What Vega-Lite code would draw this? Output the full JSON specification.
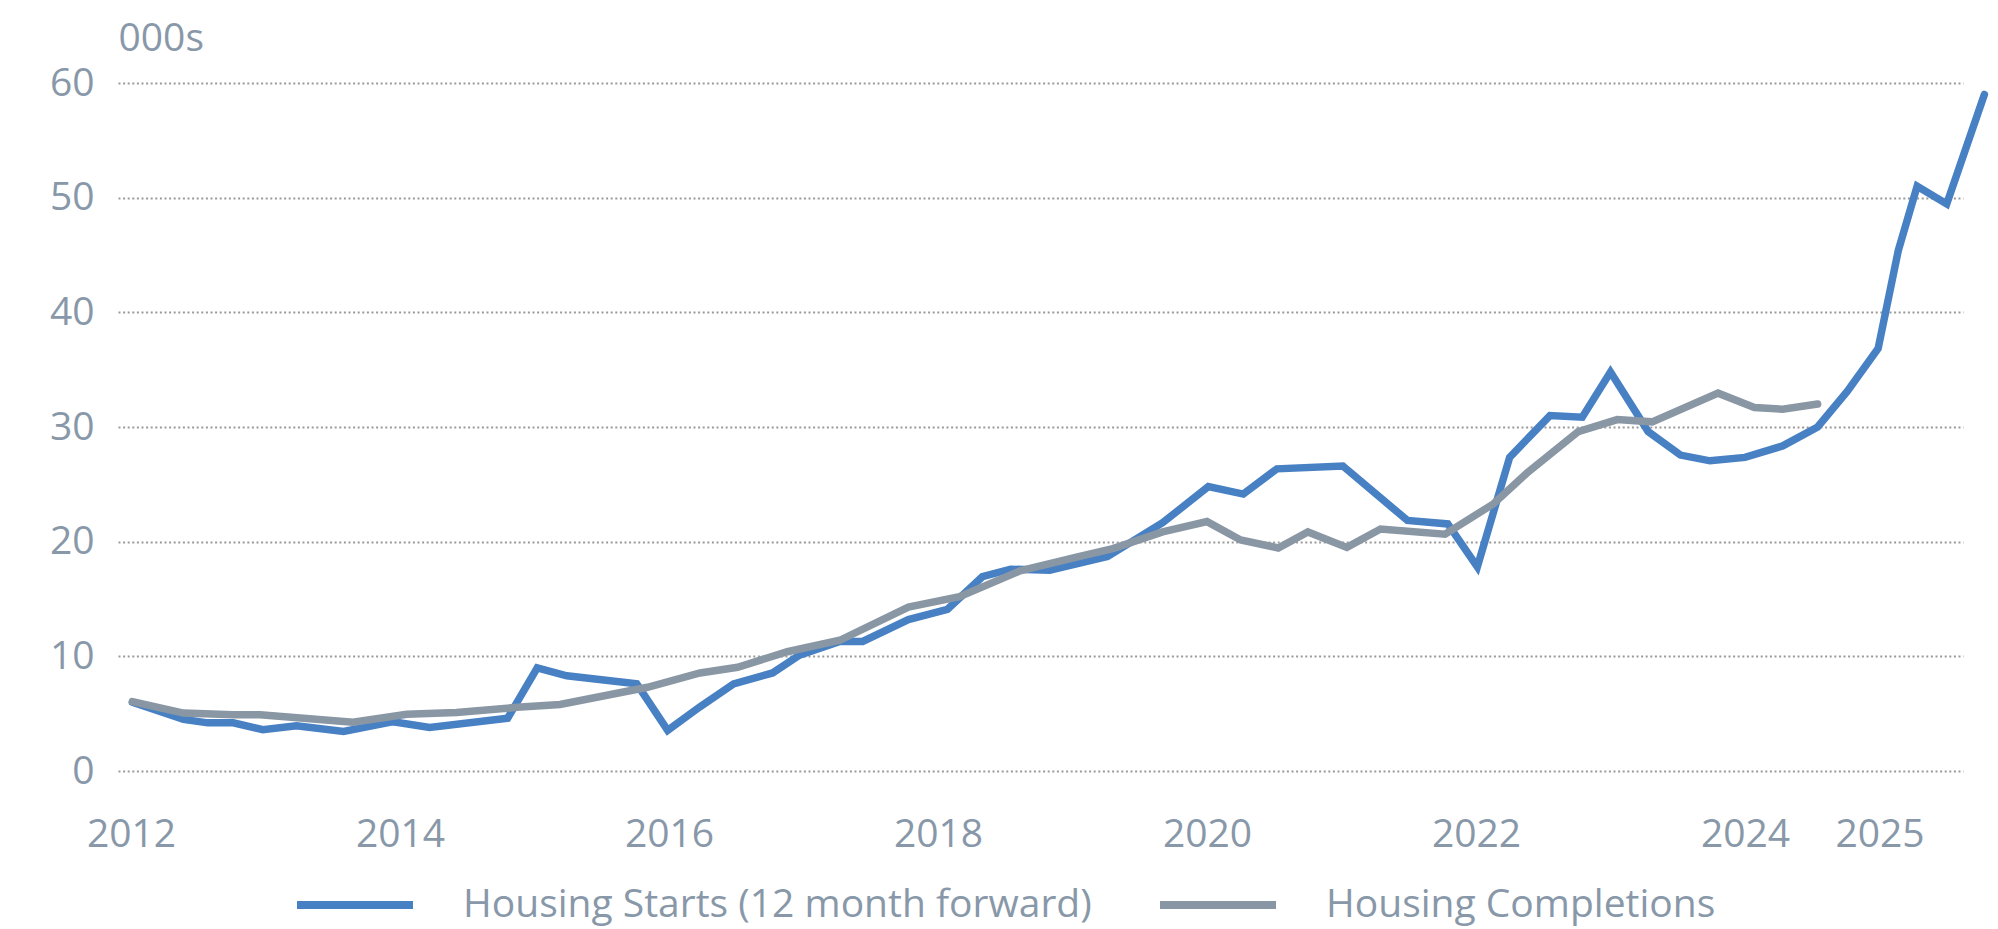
{
  "$schema": "https://vega.github.io/schema/vega-lite/v6.json",
  "width": 1845,
  "height": 688,
  "autosize": {"type": "none"},
  "padding": {"left": 118, "top": 83, "right": 35, "bottom": 158},
  "background": "#ffffff",
  "config": {
    "view": {"stroke": null},
    "font": "Open Sans"
  },
  "data": {
    "values": [
      {"series": "Housing Starts (12 month forward)", "year": 2012.01, "value": 6.0},
      {"series": "Housing Starts (12 month forward)", "year": 2012.39, "value": 4.5},
      {"series": "Housing Starts (12 month forward)", "year": 2012.57, "value": 4.2},
      {"series": "Housing Starts (12 month forward)", "year": 2012.76, "value": 4.2},
      {"series": "Housing Starts (12 month forward)", "year": 2012.98, "value": 3.6},
      {"series": "Housing Starts (12 month forward)", "year": 2013.23, "value": 3.95},
      {"series": "Housing Starts (12 month forward)", "year": 2013.58, "value": 3.45},
      {"series": "Housing Starts (12 month forward)", "year": 2013.95, "value": 4.3},
      {"series": "Housing Starts (12 month forward)", "year": 2014.22, "value": 3.8},
      {"series": "Housing Starts (12 month forward)", "year": 2014.8, "value": 4.6},
      {"series": "Housing Starts (12 month forward)", "year": 2015.02, "value": 9.0},
      {"series": "Housing Starts (12 month forward)", "year": 2015.24, "value": 8.3},
      {"series": "Housing Starts (12 month forward)", "year": 2015.76, "value": 7.6},
      {"series": "Housing Starts (12 month forward)", "year": 2015.99, "value": 3.55},
      {"series": "Housing Starts (12 month forward)", "year": 2016.23, "value": 5.6},
      {"series": "Housing Starts (12 month forward)", "year": 2016.48, "value": 7.6},
      {"series": "Housing Starts (12 month forward)", "year": 2016.77, "value": 8.55},
      {"series": "Housing Starts (12 month forward)", "year": 2016.97, "value": 10.1},
      {"series": "Housing Starts (12 month forward)", "year": 2017.27, "value": 11.3},
      {"series": "Housing Starts (12 month forward)", "year": 2017.44, "value": 11.3},
      {"series": "Housing Starts (12 month forward)", "year": 2017.78, "value": 13.2},
      {"series": "Housing Starts (12 month forward)", "year": 2018.07, "value": 14.1},
      {"series": "Housing Starts (12 month forward)", "year": 2018.33, "value": 16.95},
      {"series": "Housing Starts (12 month forward)", "year": 2018.54, "value": 17.6},
      {"series": "Housing Starts (12 month forward)", "year": 2018.83, "value": 17.5},
      {"series": "Housing Starts (12 month forward)", "year": 2019.26, "value": 18.7},
      {"series": "Housing Starts (12 month forward)", "year": 2019.67, "value": 21.65},
      {"series": "Housing Starts (12 month forward)", "year": 2020.01, "value": 24.8},
      {"series": "Housing Starts (12 month forward)", "year": 2020.27, "value": 24.15},
      {"series": "Housing Starts (12 month forward)", "year": 2020.52, "value": 26.35},
      {"series": "Housing Starts (12 month forward)", "year": 2021.01, "value": 26.6},
      {"series": "Housing Starts (12 month forward)", "year": 2021.49, "value": 21.85},
      {"series": "Housing Starts (12 month forward)", "year": 2021.79, "value": 21.55},
      {"series": "Housing Starts (12 month forward)", "year": 2022.01, "value": 17.8},
      {"series": "Housing Starts (12 month forward)", "year": 2022.25, "value": 27.35},
      {"series": "Housing Starts (12 month forward)", "year": 2022.55, "value": 31.0},
      {"series": "Housing Starts (12 month forward)", "year": 2022.79, "value": 30.85},
      {"series": "Housing Starts (12 month forward)", "year": 2023.0, "value": 34.8},
      {"series": "Housing Starts (12 month forward)", "year": 2023.28, "value": 29.6},
      {"series": "Housing Starts (12 month forward)", "year": 2023.52, "value": 27.55},
      {"series": "Housing Starts (12 month forward)", "year": 2023.74, "value": 27.05},
      {"series": "Housing Starts (12 month forward)", "year": 2024.0, "value": 27.35},
      {"series": "Housing Starts (12 month forward)", "year": 2024.28, "value": 28.35},
      {"series": "Housing Starts (12 month forward)", "year": 2024.54, "value": 30.0},
      {"series": "Housing Starts (12 month forward)", "year": 2024.76, "value": 33.1},
      {"series": "Housing Starts (12 month forward)", "year": 2024.99, "value": 36.85},
      {"series": "Housing Starts (12 month forward)", "year": 2025.14, "value": 45.4},
      {"series": "Housing Starts (12 month forward)", "year": 2025.28, "value": 51.0},
      {"series": "Housing Starts (12 month forward)", "year": 2025.5, "value": 49.45},
      {"series": "Housing Starts (12 month forward)", "year": 2025.78, "value": 59.0},
      {"series": "Housing Completions", "year": 2012.01, "value": 6.05},
      {"series": "Housing Completions", "year": 2012.39, "value": 5.05},
      {"series": "Housing Completions", "year": 2012.76, "value": 4.9},
      {"series": "Housing Completions", "year": 2012.96, "value": 4.9},
      {"series": "Housing Completions", "year": 2013.65, "value": 4.25},
      {"series": "Housing Completions", "year": 2014.05, "value": 4.95},
      {"series": "Housing Completions", "year": 2014.42, "value": 5.1},
      {"series": "Housing Completions", "year": 2014.87, "value": 5.55},
      {"series": "Housing Completions", "year": 2015.19, "value": 5.8},
      {"series": "Housing Completions", "year": 2015.84, "value": 7.3},
      {"series": "Housing Completions", "year": 2016.23, "value": 8.55},
      {"series": "Housing Completions", "year": 2016.51, "value": 9.05},
      {"series": "Housing Completions", "year": 2016.88, "value": 10.4},
      {"series": "Housing Completions", "year": 2017.27, "value": 11.4},
      {"series": "Housing Completions", "year": 2017.78, "value": 14.3},
      {"series": "Housing Completions", "year": 2018.16, "value": 15.2},
      {"series": "Housing Completions", "year": 2018.61, "value": 17.45},
      {"series": "Housing Completions", "year": 2019.03, "value": 18.65},
      {"series": "Housing Completions", "year": 2019.3, "value": 19.4},
      {"series": "Housing Completions", "year": 2019.67, "value": 20.85},
      {"series": "Housing Completions", "year": 2020.0, "value": 21.75},
      {"series": "Housing Completions", "year": 2020.25, "value": 20.15},
      {"series": "Housing Completions", "year": 2020.53, "value": 19.45},
      {"series": "Housing Completions", "year": 2020.75, "value": 20.85},
      {"series": "Housing Completions", "year": 2021.04, "value": 19.5},
      {"series": "Housing Completions", "year": 2021.29, "value": 21.1},
      {"series": "Housing Completions", "year": 2021.77, "value": 20.65},
      {"series": "Housing Completions", "year": 2022.13, "value": 23.3},
      {"series": "Housing Completions", "year": 2022.38, "value": 26.0},
      {"series": "Housing Completions", "year": 2022.76, "value": 29.6},
      {"series": "Housing Completions", "year": 2023.05, "value": 30.65},
      {"series": "Housing Completions", "year": 2023.31, "value": 30.45},
      {"series": "Housing Completions", "year": 2023.8, "value": 32.95},
      {"series": "Housing Completions", "year": 2024.07, "value": 31.7},
      {"series": "Housing Completions", "year": 2024.28, "value": 31.55},
      {"series": "Housing Completions", "year": 2024.54, "value": 32.0}
    ]
  },
  "mark": {"type": "line", "strokeWidth": 7.5, "strokeCap": "round", "clip": false},
  "encoding": {
    "x": {
      "field": "year",
      "type": "quantitative",
      "scale": {"domain": [2011.903, 2025.621], "nice": false, "zero": false},
      "axis": {
        "title": null,
        "values": [2012, 2014, 2016, 2018, 2020, 2022, 2024, 2025],
        "format": "d",
        "grid": false,
        "domain": false,
        "ticks": false,
        "labelFont": "Open Sans",
        "labelFontSize": 39,
        "labelColor": "#8898a9",
        "labelPadding": 44,
        "labelFlush": false,
        "labelOverlap": false
      }
    },
    "y": {
      "field": "value",
      "type": "quantitative",
      "scale": {"domain": [0, 60], "nice": false},
      "axis": {
        "title": "000s",
        "titleAngle": 0,
        "titleAlign": "left",
        "titleBaseline": "alphabetic",
        "titleX": 0,
        "titleY": -33,
        "titleFont": "Open Sans",
        "titleFontSize": 39,
        "titleFontWeight": "normal",
        "titleColor": "#8898a9",
        "values": [0, 10, 20, 30, 40, 50, 60],
        "grid": true,
        "gridColor": "#9a9a9a",
        "gridWidth": 2,
        "gridDash": [2, 2.6],
        "domain": false,
        "ticks": false,
        "labelFont": "Open Sans",
        "labelFontSize": 39,
        "labelColor": "#8898a9",
        "labelPadding": 24
      }
    },
    "color": {
      "field": "series",
      "type": "nominal",
      "sort": ["Housing Starts (12 month forward)", "Housing Completions"],
      "scale": {
        "domain": ["Housing Starts (12 month forward)", "Housing Completions"],
        "range": ["#4880c4", "#8996a3"]
      },
      "legend": {
        "title": null,
        "orient": "none",
        "direction": "horizontal",
        "legendX": 175,
        "legendY": 760,
        "padding": 0,
        "symbolType": "stroke",
        "symbolSize": 13456,
        "symbolStrokeWidth": 8,
        "labelFont": "Open Sans",
        "labelFontSize": 39,
        "labelColor": "#8898a9",
        "labelOffset": 46,
        "labelLimit": 0,
        "columnPadding": 52
      }
    }
  }
}
